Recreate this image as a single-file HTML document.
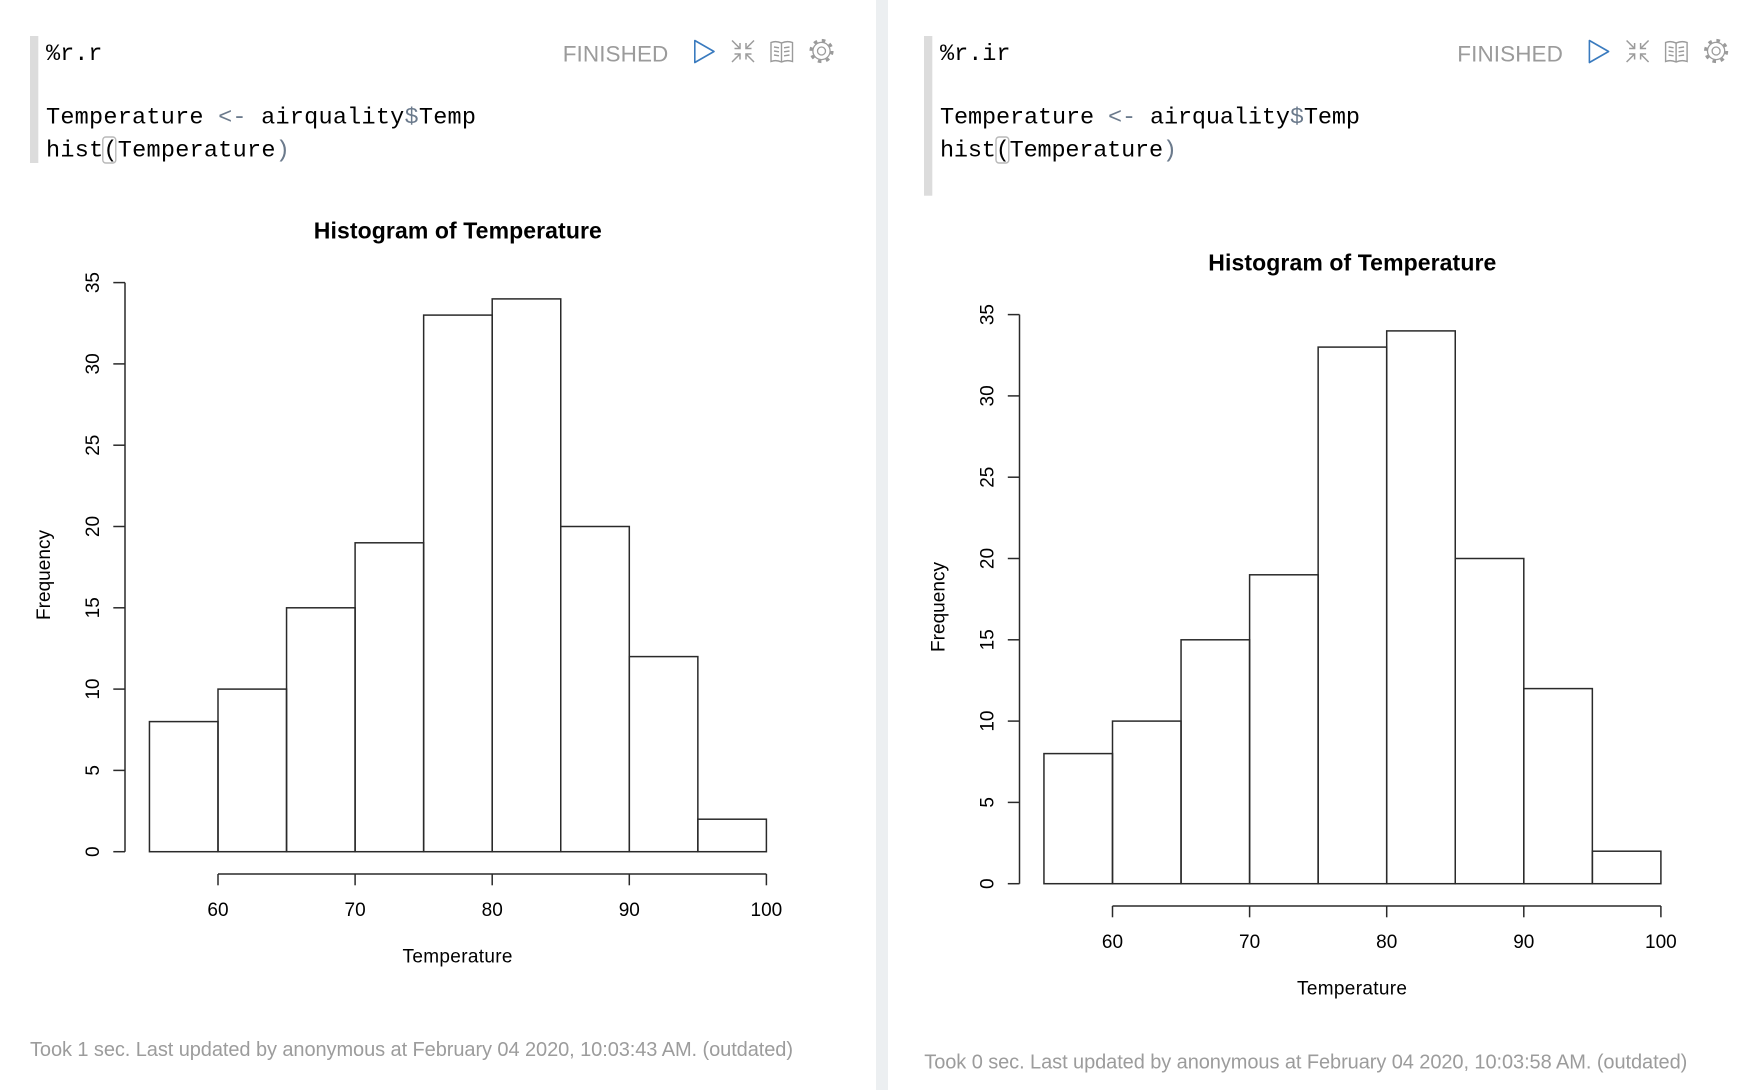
<!DOCTYPE html>
<html>
<head>
<meta charset="utf-8">
<style>
html,body{margin:0;padding:0;background:#fff;}
body{width:1754px;height:1090px;overflow:hidden;}
svg{display:block;}
.code{font-family:"Liberation Mono",monospace;font-size:23.5px;fill:#000;}
.op{fill:#6b7a8c;}
.fin{font-family:"Liberation Sans",sans-serif;font-size:22.5px;fill:#9b9b9b;}
.rt{font-family:"Liberation Sans",sans-serif;fill:#000;}
.foot{font-family:"Liberation Sans",sans-serif;font-size:20px;fill:#9c9c9c;}
</style>
</head>
<body>
<svg width="1754" height="1090" viewBox="0 0 1754 1090" xmlns="http://www.w3.org/2000/svg">
  <rect x="0" y="0" width="1754" height="1090" fill="#fff"/>
  <!-- divider -->
  <rect x="876" y="0" width="12" height="1090" fill="#eceff1"/>

  <defs>
    <g id="icons">
      <text class="fin" x="562.7" y="61.7" textLength="105.6">FINISHED</text>
      <polygon points="694.8,40.5 714,51.5 694.8,62.5" fill="none" stroke="#3a7bbf" stroke-width="1.6" stroke-linejoin="round"/>
      <g stroke="#9b9b9b" stroke-width="1.5" fill="none">
        <line x1="732" y1="40.5" x2="740" y2="48.5"/>
        <polyline points="734.5,48.5 740,48.5 740,43"/>
        <line x1="754" y1="40.5" x2="746" y2="48.5"/>
        <polyline points="751.5,48.5 746,48.5 746,43"/>
        <line x1="740" y1="54" x2="732" y2="62"/>
        <polyline points="734.5,54 740,54 740,59.5"/>
        <line x1="746" y1="54" x2="754" y2="62"/>
        <polyline points="751.5,54 746,54 746,59.5"/>
      </g>
      <g stroke="#9b9b9b" stroke-width="1.4" fill="none">
        <path d="M771,42.5 Q776,40.5 781.5,43 Q787,40.5 792.5,42.5 L792.5,61.5 Q787,59.5 781.5,62 Q776,59.5 771,61.5 Z"/>
        <line x1="781.5" y1="43" x2="781.5" y2="62"/>
        <line x1="774" y1="47" x2="779" y2="47.8"/>
        <line x1="774" y1="51" x2="779" y2="51.8"/>
        <line x1="774" y1="55" x2="779" y2="55.8"/>
        <line x1="784" y1="47.8" x2="789.5" y2="47"/>
        <line x1="784" y1="51.8" x2="789.5" y2="51"/>
        <line x1="784" y1="55.8" x2="789.5" y2="55"/>
      </g>
      <g stroke="#9b9b9b" fill="none">
        <circle cx="821.5" cy="51" r="10.6" stroke-width="3" stroke-dasharray="3.6 4.72"/>
        <circle cx="821.5" cy="51" r="8.6" stroke-width="1.3"/>
        <circle cx="821.5" cy="51" r="4" stroke-width="1.3"/>
      </g>
    </g>

    <g id="chart">
      <g stroke="#2a2a2a" stroke-width="1.5" fill="none">
        <line x1="125" y1="851.7" x2="125" y2="282.6"/>
        <line x1="113.3" y1="851.7" x2="125" y2="851.7"/>
        <line x1="113.3" y1="770.4" x2="125" y2="770.4"/>
        <line x1="113.3" y1="689.1" x2="125" y2="689.1"/>
        <line x1="113.3" y1="607.8" x2="125" y2="607.8"/>
        <line x1="113.3" y1="526.5" x2="125" y2="526.5"/>
        <line x1="113.3" y1="445.2" x2="125" y2="445.2"/>
        <line x1="113.3" y1="363.9" x2="125" y2="363.9"/>
        <line x1="113.3" y1="282.6" x2="125" y2="282.6"/>
        <line x1="218" y1="874" x2="766.4" y2="874"/>
        <line x1="218" y1="874" x2="218" y2="885.3"/>
        <line x1="355.1" y1="874" x2="355.1" y2="885.3"/>
        <line x1="492.2" y1="874" x2="492.2" y2="885.3"/>
        <line x1="629.3" y1="874" x2="629.3" y2="885.3"/>
        <line x1="766.4" y1="874" x2="766.4" y2="885.3"/>
        <rect x="149.45" y="721.6" width="68.55" height="130.1"/>
        <rect x="218" y="689.1" width="68.55" height="162.6"/>
        <rect x="286.55" y="607.8" width="68.55" height="243.9"/>
        <rect x="355.1" y="542.8" width="68.55" height="308.9"/>
        <rect x="423.65" y="315.1" width="68.55" height="536.6"/>
        <rect x="492.2" y="298.9" width="68.55" height="552.8"/>
        <rect x="560.75" y="526.5" width="68.55" height="325.2"/>
        <rect x="629.3" y="656.6" width="68.55" height="195.1"/>
        <rect x="697.85" y="819.2" width="68.55" height="32.5"/>
      </g>
      <g class="rt" font-size="19" text-anchor="middle">
        <text transform="translate(99,851.7) rotate(-90)">0</text>
        <text transform="translate(99,770.4) rotate(-90)">5</text>
        <text transform="translate(99,689.1) rotate(-90)">10</text>
        <text transform="translate(99,607.8) rotate(-90)">15</text>
        <text transform="translate(99,526.5) rotate(-90)">20</text>
        <text transform="translate(99,445.2) rotate(-90)">25</text>
        <text transform="translate(99,363.9) rotate(-90)">30</text>
        <text transform="translate(99,282.6) rotate(-90)">35</text>
        <text x="218" y="916">60</text>
        <text x="355.1" y="916">70</text>
        <text x="492.2" y="916">80</text>
        <text x="629.3" y="916">90</text>
        <text x="766.4" y="916">100</text>
        <text x="457.5" y="962.3" textLength="110">Temperature</text>
        <text transform="translate(50,575) rotate(-90)" textLength="90">Frequency</text>
      </g>
      <text class="rt" x="457.8" y="238.5" font-size="23" font-weight="bold" text-anchor="middle" textLength="288">Histogram of Temperature</text>
    </g>
  </defs>

  <!-- LEFT PANEL -->
  <rect x="30" y="36" width="8.3" height="127" fill="#dcdcdc"/>
  <text class="code" x="46" y="60" textLength="56.4">%r.r</text>
  <text class="code" x="46" y="123.3" textLength="430">Temperature <tspan class="op">&lt;-</tspan> airquality<tspan class="op">$</tspan>Temp</text>
  <rect x="102.8" y="137" width="13" height="26" rx="3" fill="none" stroke="#b8b8b8" stroke-width="1.4"/>
  <text class="code" x="46" y="156.3" textLength="243.8">hist(Temperature<tspan class="op">)</tspan></text>
  <use href="#icons"/>
  <use href="#chart"/>
  <text class="foot" x="30" y="1056" textLength="763">Took 1 sec. Last updated by anonymous at February 04 2020, 10:03:43 AM. (outdated)</text>

  <!-- RIGHT PANEL -->
  <rect x="924" y="36" width="8.3" height="159.7" fill="#dcdcdc"/>
  <text class="code" x="940" y="60" textLength="70.5">%r.ir</text>
  <text class="code" x="940" y="123.3" textLength="420">Temperature <tspan class="op">&lt;-</tspan> airquality<tspan class="op">$</tspan>Temp</text>
  <rect x="996" y="137" width="12.8" height="26" rx="3" fill="none" stroke="#b8b8b8" stroke-width="1.4"/>
  <text class="code" x="940" y="156.3" textLength="237">hist(Temperature<tspan class="op">)</tspan></text>
  <g transform="translate(894.6,0)"><use href="#icons"/></g>
  <g transform="translate(894.5,32)"><use href="#chart"/></g>
  <text class="foot" x="924.3" y="1068.3" textLength="763">Took 0 sec. Last updated by anonymous at February 04 2020, 10:03:58 AM. (outdated)</text>
</svg>
</body>
</html>
